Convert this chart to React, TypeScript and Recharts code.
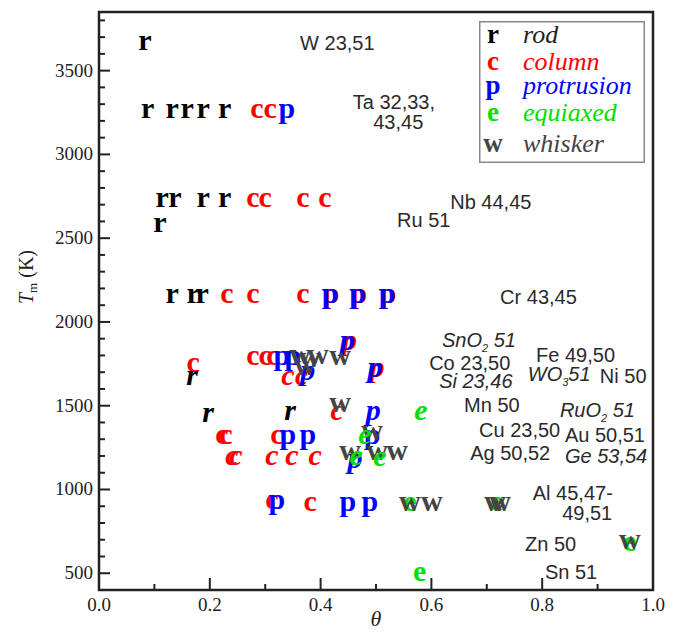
import { ScatterChart, Scatter, XAxis, YAxis, ReferenceArea, Legend, Label } from 'recharts';

// [theta, Tm] pairs
const rodUpright = [
  [0.083, 3667],
  [0.088, 3262], [0.132, 3262], [0.159, 3262], [0.188, 3262], [0.227, 3262],
  [0.114, 2726], [0.137, 2726], [0.188, 2726], [0.227, 2726],
  [0.11, 2577],
  [0.132, 2155], [0.17, 2155], [0.186, 2155],
];
const rodItalic = [[0.168, 1667], [0.197, 1446], [0.345, 1458]];

const columnUpright = [
  [0.285, 3262], [0.309, 3262],
  [0.278, 2726], [0.3, 2726], [0.368, 2726], [0.408, 2726],
  [0.231, 2155], [0.278, 2155], [0.368, 2155],
  [0.17, 1744],
  [0.278, 1786], [0.3, 1786], [0.314, 1786],
  [0.222, 1315], [0.229, 1315], [0.321, 1315],
  [0.312, 923], [0.381, 911],
];
const columnItalic = [
  [0.341, 1667], [0.366, 1667],
  [0.43, 1458],
  [0.24, 1190], [0.247, 1190], [0.312, 1190], [0.348, 1190], [0.39, 1190],
];
// red glyphs peeking out from under blue ones
const columnShadowUpright = [[0.419, 2155], [0.469, 2155], [0.522, 2155]];
const columnShadowItalic = [[0.452, 1875], [0.502, 1714]];

const protrusionUpright = [
  [0.339, 3262],
  [0.417, 2155], [0.467, 2155], [0.52, 2155],
  [0.33, 1786], [0.35, 1786],
  [0.341, 1315], [0.377, 1315], [0.493, 1315],
  [0.321, 923], [0.449, 911], [0.489, 911],
];
const protrusionItalic = [[0.448, 1875], [0.498, 1714], [0.377, 1696], [0.495, 1458], [0.462, 1167]];

const equiaxedUpright = [[0.579, 494], [0.958, 673], [0.561, 911], [0.718, 911]];
const equiaxedItalic = [[0.581, 1458], [0.48, 1315], [0.507, 1179], [0.464, 1190]];

const whisker = [
  [0.363, 1792], [0.381, 1774], [0.395, 1792], [0.372, 1726], [0.435, 1786],
  [0.435, 1506],
  [0.493, 1339],
  [0.453, 1220], [0.502, 1220], [0.538, 1220],
  [0.561, 911], [0.601, 911], [0.715, 911], [0.724, 911],
  [0.958, 684],
];

// element labels: [theta, Tm, text, italic]
const notes: [number, number, string, boolean][] = [
  [0.363, 3667, 'W 23,51', false],
  [0.458, 3315, 'Ta 32,33,', false],
  [0.495, 3196, '43,45', false],
  [0.634, 2714, 'Nb 44,45', false],
  [0.538, 2607, 'Ru 51', false],
  [0.724, 2149, 'Cr 43,45', false],
  [0.619, 1893, 'SnO_2 51', true],
  [0.596, 1756, 'Co 23,50', false],
  [0.614, 1649, 'Si 23,46', true],
  [0.789, 1804, 'Fe 49,50', false],
  [0.774, 1690, 'WO_351', true],
  [0.904, 1679, 'Ni 50', false],
  [0.659, 1506, 'Mn 50', false],
  [0.832, 1476, 'RuO_2 51', true],
  [0.686, 1357, 'Cu 23,50', false],
  [0.841, 1327, 'Au 50,51', false],
  [0.67, 1220, 'Ag 50,52', false],
  [0.841, 1202, 'Ge 53,54', true],
  [0.783, 976, 'Al 45,47-', false],
  [0.836, 857, '49,51', false],
  [0.769, 673, 'Zn 50', false],
  [0.805, 506, 'Sn 51', false],
];

const xTicks = [0, 0.1, 0.2, 0.3, 0.4, 0.5, 0.6, 0.7, 0.8, 0.9, 1.0];
const yTicks = [
  500, 600, 700, 800, 900, 1000, 1100, 1200, 1300, 1400, 1500, 1600, 1700, 1800, 1900,
  2000, 2100, 2200, 2300, 2400, 2500, 2600, 2700, 2800, 2900, 3000, 3100, 3200, 3300,
  3400, 3500, 3600, 3700, 3800,
];

const legendItems = [
  { ch: 'r', label: 'rod', color: '#000', text: '#222', y: 22 },
  { ch: 'c', label: 'column', color: '#ff0000', text: '#ff0000', y: 49 },
  { ch: 'p', label: 'protrusion', color: '#0000ff', text: '#0000ff', y: 73 },
  { ch: 'e', label: 'equiaxed', color: '#00e000', text: '#00e000', y: 100 },
  { ch: 'w', label: 'whisker', color: '#444', text: '#444', y: 131 },
];

const serif = '"Liberation Serif", "Times New Roman", serif';
const sans = '"Liberation Sans", Arial, sans-serif';

const toPoints = (arr: number[][]) => arr.map(([theta, tm]) => ({ theta, tm }));

const glyph = (ch: string, color: string, italic: boolean) => (props: any) => {
  const { cx, cy } = props;
  if (cx == null || cy == null) return null;
  return (
    <text
      x={cx}
      y={cy + 7}
      textAnchor="middle"
      fontFamily={serif}
      fontWeight="bold"
      fontStyle={italic ? 'italic' : 'normal'}
      fontSize={30}
      fill={color}
    >
      {ch}
    </text>
  );
};

const NoteShape = (props: any) => {
  const { cx, cy, payload } = props;
  const parts = payload.text.split('_');
  return (
    <text
      x={cx}
      y={cy + 7}
      fontFamily={sans}
      fontSize={20}
      fontStyle={payload.italic ? 'italic' : 'normal'}
      fill="#2a2a2a"
    >
      {parts.length === 1 ? (
        payload.text
      ) : (
        <>
          <tspan>{parts[0]}</tspan>
          <tspan dy={5} fontSize={11}>{parts[1][0]}</tspan>
          <tspan dy={-5}>{parts[1].slice(1)}</tspan>
        </>
      )}
    </text>
  );
};

const XTick = (props: any) => {
  const { x, y, payload } = props;
  const v = payload.value;
  const major = Math.round(v * 10) % 2 === 0;
  return (
    <g>
      <line x1={x} x2={x} y1={y} y2={y - (major ? 12 : 6)} stroke="#222" strokeWidth={2} />
      {major && (
        <text x={x} y={y + 21} textAnchor="middle" fontFamily={serif} fontSize={19} fill="#222">
          {v.toFixed(1)}
        </text>
      )}
    </g>
  );
};

const YTick = (props: any) => {
  const { x, y, payload } = props;
  const v = payload.value;
  const major = v % 500 === 0;
  return (
    <g>
      <line x1={x} x2={x + (major ? 11 : 6)} y1={y} y2={y} stroke="#222" strokeWidth={2} />
      {major && (
        <text x={x - 6} y={y + 6} textAnchor="end" fontFamily={serif} fontSize={19} fill="#222">
          {v}
        </text>
      )}
    </g>
  );
};

const LegendBox = () => (
  <svg width={166} height={142} style={{ display: 'block' }}>
    <rect x={0.75} y={0.75} width={164.5} height={140.5} fill="#fff" stroke="#888" strokeWidth={1.5} />
    {legendItems.map((it) => (
      <g key={it.ch}>
        <text x={14} y={it.y} textAnchor="middle" fontFamily={serif} fontWeight="bold" fontSize={27} fill={it.color}>
          {it.ch}
        </text>
        <text x={44} y={it.y} fontFamily={serif} fontStyle="italic" fontSize={26} fill={it.text}>
          {it.label}
        </text>
      </g>
    ))}
  </svg>
);

const series = [
  { data: columnShadowUpright, ch: 'p', color: '#ff0000', italic: false },
  { data: columnShadowItalic, ch: 'p', color: '#ff0000', italic: true },
  { data: equiaxedUpright, ch: 'e', color: '#00e000', italic: false },
  { data: columnUpright, ch: 'c', color: '#ff0000', italic: false },
  { data: columnItalic, ch: 'c', color: '#ff0000', italic: true },
  { data: protrusionUpright, ch: 'p', color: '#0000ff', italic: false },
  { data: protrusionItalic, ch: 'p', color: '#0000ff', italic: true },
  { data: whisker, ch: 'w', color: '#444', italic: false },
  { data: equiaxedItalic, ch: 'e', color: '#00e000', italic: true },
  { data: rodUpright, ch: 'r', color: '#000', italic: false },
  { data: rodItalic, ch: 'r', color: '#000', italic: true },
];

export default function App() {
  const noteData = notes.map(([theta, tm, text, italic]) => ({ theta, tm, text, italic }));
  return (
    <ScatterChart width={667} height={624} margin={{ top: 4, right: 22, bottom: 0, left: 0 }}>
      <XAxis
        type="number"
        dataKey="theta"
        domain={[0, 1]}
        ticks={xTicks}
        interval={0}
        tickSize={0}
        tickMargin={0}
        tick={<XTick />}
        axisLine={false}
        height={42}
        allowDataOverflow
      >
        <Label
          content={() => (
            <text x={368} y={618} textAnchor="middle" fontFamily={serif} fontStyle="italic" fontSize={22} fill="#222">
              θ
            </text>
          )}
        />
      </XAxis>
      <YAxis
        type="number"
        dataKey="tm"
        domain={[400, 3850]}
        ticks={yTicks}
        interval={0}
        tickSize={0}
        tickMargin={0}
        tick={<YTick />}
        axisLine={false}
        width={91}
        allowDataOverflow
      >
        <Label
          content={() => (
            <text
              x={19}
              y={275}
              transform="rotate(-90, 19, 269)"
              textAnchor="middle"
              fontFamily={serif}
              fontSize={20}
              fill="#222"
            >
              <tspan fontStyle="italic">T</tspan>
              <tspan dy={4} fontSize={13}>m</tspan>
              <tspan dy={-4}> (K)</tspan>
            </text>
          )}
        />
      </YAxis>
      <ReferenceArea x1={0} x2={1} y1={400} y2={3850} fill="none" stroke="#222" strokeWidth={2.5} />
      <Scatter data={noteData} shape={NoteShape} isAnimationActive={false} legendType="none" />
      {series.map((s, i) => (
        <Scatter
          key={i}
          data={toPoints(s.data)}
          shape={glyph(s.ch, s.color, s.italic)}
          isAnimationActive={false}
          legendType="none"
        />
      ))}
      <Legend
        layout="vertical"
        align="center"
        verticalAlign="middle"
        content={() => <LegendBox />}
        wrapperStyle={{ position: 'absolute', left: 471, top: 13, width: 166, height: 142 }}
      />
    </ScatterChart>
  );
}
